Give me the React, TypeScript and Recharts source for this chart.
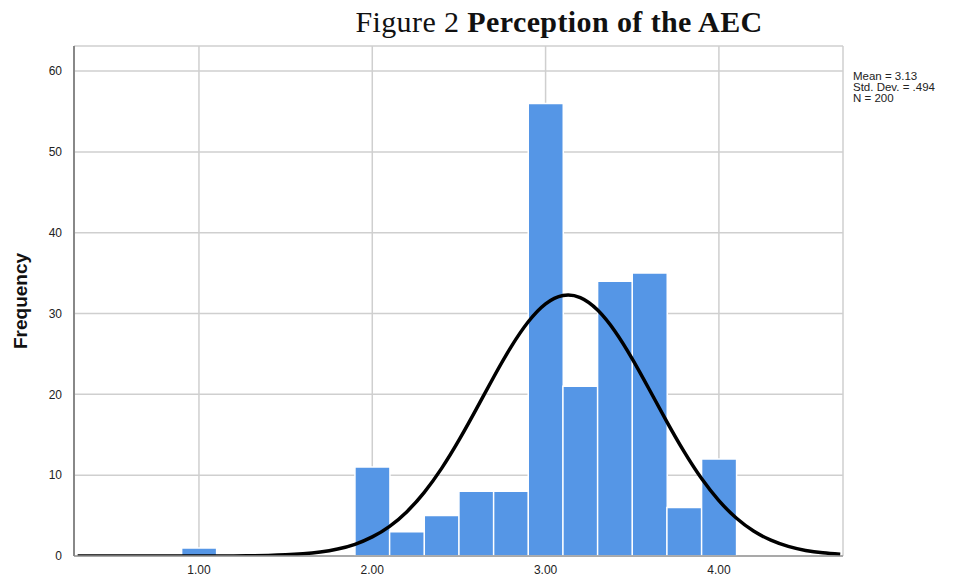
import React from "react";
import {
  ComposedChart,
  Bar,
  Line,
  XAxis,
  YAxis,
  CartesianGrid,
  Label,
} from "recharts";

// histogram bins (bin centre) and counts
const binCenters = [1.0, 2.0, 2.2, 2.4, 2.6, 2.8, 3.0, 3.2, 3.4, 3.6, 3.8, 4.0];
const binCounts = [1, 11, 3, 5, 8, 8, 56, 21, 34, 35, 6, 12];

// normal curve
const curveX = [
  0.3, 0.4, 0.5, 0.6, 0.7, 0.8, 0.9, 1.0, 1.1, 1.2, 1.3, 1.4, 1.5, 1.6, 1.7,
  1.8, 1.9, 2.0, 2.1, 2.2, 2.3, 2.4, 2.5, 2.6, 2.7, 2.8, 2.9, 3.0, 3.1, 3.2,
  3.3, 3.4, 3.5, 3.6, 3.7, 3.8, 3.9, 4.0, 4.1, 4.2, 4.3, 4.4, 4.5, 4.6, 4.7,
];
const curveY = [
  0, 0, 0, 0, 0, 0, 0, 0, 0, 0.01, 0.03, 0.07, 0.14, 0.27, 0.49,
  0.86, 1.45, 2.36, 3.67, 5.49, 7.88, 10.84, 14.33, 18.17, 22.12, 25.84, 28.98, 31.2, 32.24, 31.98,
  30.44, 27.82, 24.4, 20.54, 16.6, 12.88, 9.58, 6.85, 4.7, 3.09, 1.96, 1.19, 0.69, 0.39, 0.21,
];

const xTicks = [1, 2, 3, 4];
const yTicks = [0, 10, 20, 30, 40, 50, 60];
const statLines = ["Mean = 3.13", "Std. Dev. = .494", "N = 200"];
const xDomain = [0.279, 4.716];

const barData = binCenters.map((x, i) => ({ x, freq: binCounts[i] }));
const curveData = curveX.map((x, i) => ({ x, curve: curveY[i] }));

const sans = "'Liberation Sans', Arial, sans-serif";

export default function App() {
  return (
    <div
      style={{
        position: "absolute",
        left: 0,
        top: 0,
        width: 957,
        height: 577,
        background: "#fff",
      }}
    >
      <div
        style={{
          position: "absolute",
          left: 0,
          width: 1118,
          top: 5,
          textAlign: "center",
          fontFamily: "'Liberation Serif', 'DejaVu Serif', serif",
          fontSize: 30,
          color: "#111",
          lineHeight: "34px",
          letterSpacing: 0.4,
        }}
      >
        Figure 2 <b>Perception of the AEC</b>
      </div>
      <div
        style={{
          position: "absolute",
          left: 853,
          top: 71,
          fontFamily: sans,
          fontSize: 11.5,
          lineHeight: "11px",
          color: "#222",
        }}
      >
        {statLines.map((s) => (
          <div key={s}>{s}</div>
        ))}
      </div>
      <ComposedChart
        width={957}
        height={577}
        data={barData}
        barCategoryGap={0}
        barGap={0}
        margin={{ top: 46, right: 114, bottom: 0, left: 0 }}
        style={{ position: "absolute", left: 0, top: 0 }}
      >
        <CartesianGrid stroke="#cfcfcf" strokeWidth={1.5} />
        <XAxis
          dataKey="x"
          type="number"
          domain={xDomain}
          ticks={xTicks}
          tickFormatter={(v: number) => v.toFixed(2)}
          height={21}
          tickLine={false}
          axisLine={{ stroke: "#999", strokeWidth: 1.5 }}
          tick={{ fill: "#222", fontSize: 12, fontFamily: sans }}
          tickMargin={3}
          allowDataOverflow
        />
        <XAxis
          xAxisId="curve"
          dataKey="x"
          type="number"
          domain={xDomain}
          height={0}
          hide
          allowDataOverflow
        />
        <YAxis
          type="number"
          domain={[0, 63.1]}
          ticks={yTicks}
          width={74}
          tickLine={false}
          axisLine={{ stroke: "#888", strokeWidth: 2 }}
          tick={{ fill: "#222", fontSize: 12, fontFamily: sans }}
          tickMargin={6}
          allowDataOverflow
        >
          <Label
            value="Frequency"
            angle={-90}
            position="insideLeft"
            offset={20}
            style={{
              fontFamily: sans,
              fontWeight: "bold",
              fontSize: 19,
              fill: "#111",
              textAnchor: "middle",
            }}
          />
        </YAxis>
        <Bar
          dataKey="freq"
          fill="#5596e6"
          stroke="#ffffff"
          strokeWidth={1.5}
          isAnimationActive={false}
        />
        <Line
          xAxisId="curve"
          data={curveData}
          dataKey="curve"
          type="natural"
          stroke="#000"
          strokeWidth={3.5}
          dot={false}
          activeDot={false}
          isAnimationActive={false}
        />
      </ComposedChart>
    </div>
  );
}
